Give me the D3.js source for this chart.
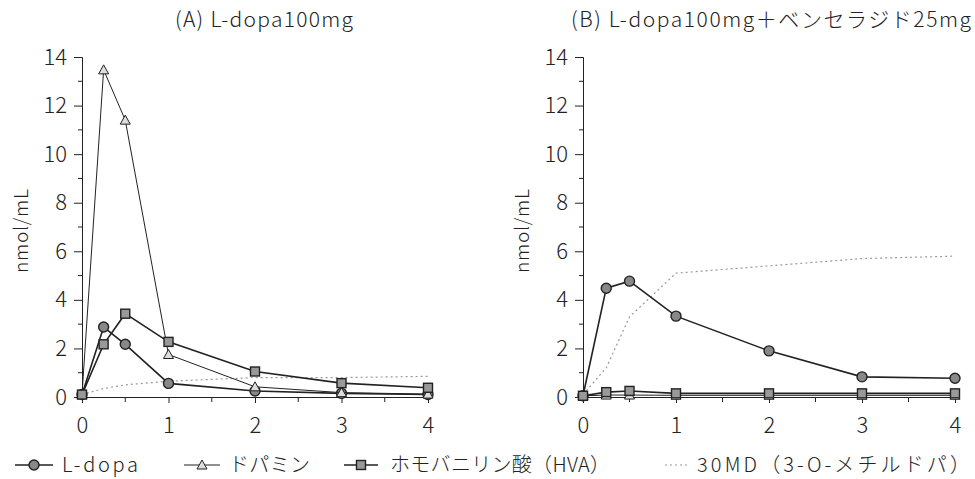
<!DOCTYPE html>
<html>
<head>
<meta charset="utf-8">
<script src="https://cdn.jsdelivr.net/npm/d3@7"></script>
<style>
  body { margin: 0; background: #fff; }
  text { font-family: "Noto Sans CJK JP", "Noto Sans", sans-serif; fill: #222; font-weight: 300; }
</style>
</head>
<body>
<div class="container"></div>
<script>
// time points (h)
const times = [0, 0.25, 0.5, 1, 2, 3, 4];
const yTicks = [0, 2, 4, 6, 8, 10, 12, 14];
const xTicks = [0, 1, 2, 3, 4];

// (A) L-dopa 100mg
const aLdopa = [0.1, 2.88, 2.17, 0.56, 0.25, 0.15, 0.1];
const aDopamine = [0.1, 13.47, 11.4, 1.75, 0.42, 0.18, 0.12];
const aHVA = [0.1, 2.17, 3.43, 2.27, 1.05, 0.57, 0.38];
const a3OMD = [0.1, 0.35, 0.5, 0.65, 0.8, 0.8, 0.85];

// (B) L-dopa 100mg + benserazide 25mg
const bLdopa = [0.05, 4.48, 4.77, 3.33, 1.9, 0.83, 0.77];
const bDopamine = [0.05, 0.08, 0.08, 0.07, 0.07, 0.07, 0.07];
const bHVA = [0.05, 0.2, 0.25, 0.15, 0.15, 0.15, 0.15];
const b3OMD = [0.1, 1.2, 3.3, 5.1, 5.4, 5.7, 5.8];

const titles = ["(A) L-dopa100mg", "(B) L-dopa100mg＋ベンセラジド25mg"];
const legendLabels = ["L-dopa", "ドパミン", "ホモバニリン酸（HVA）", "30MD（3-O-メチルドパ）"];

const w = 975, h = 479;
const ink = "#222";

const svg = d3.select(".container").append("svg")
  .attr("width", w).attr("height", h);

const panels = [
  { title: titles[0], tx: 175, tw: 178, x0: 82, x1: 428, series: [aLdopa, aDopamine, aHVA, a3OMD] },
  { title: titles[1], tx: 571, tw: 400, x0: 583, x1: 955, series: [bLdopa, bDopamine, bHVA, b3OMD] }
];

const kinds = ["circle", "triangle", "square", "none"];

function drawMarker(g, kind, x, y) {
  if (kind === "circle") {
    g.append("circle").attr("cx", x).attr("cy", y).attr("r", 5)
      .attr("fill", "#888").attr("stroke", ink).attr("stroke-width", 1.4);
  } else if (kind === "square") {
    g.append("rect").attr("x", x - 4.5).attr("y", y - 4.5).attr("width", 9).attr("height", 9)
      .attr("fill", "#999").attr("stroke", ink).attr("stroke-width", 1.4);
  } else if (kind === "triangle") {
    g.append("path")
      .attr("d", `M${x},${y - 5}L${x + 5},${y + 4}L${x - 5},${y + 4}Z`)
      .attr("fill", "#ddd").attr("stroke", ink).attr("stroke-width", 1);
  }
}

panels.forEach(p => {
  const x = d3.scaleLinear().domain([0, 4]).range([p.x0, p.x1]);
  const y = d3.scaleLinear().domain([0, 14]).range([397, 57]);
  const g = svg.append("g");

  g.append("text").attr("x", p.tx).attr("y", 27)
    .attr("font-size", 21).attr("textLength", p.tw).attr("lengthAdjust", "spacing")
    .text(p.title);

  // y axis
  const ya = g.append("g").attr("transform", `translate(${p.x0},0)`)
    .call(d3.axisLeft(y).tickValues(yTicks).tickFormat(d3.format("d")).tickSize(8).tickPadding(7));
  ya.selectAll("text").attr("font-size", 22).attr("font-family", "Liberation Sans, sans-serif");
  ya.append("g").selectAll("line").data(d3.range(1, 14, 2)).join("line")
    .attr("x1", -4).attr("x2", 0).attr("y1", d => y(d)).attr("y2", d => y(d))
    .attr("stroke", ink);

  // x axis
  const xa = g.append("g").attr("transform", `translate(0,397)`)
    .call(d3.axisBottom(x).tickValues(xTicks).tickFormat(d3.format("d")).tickSize(6).tickPadding(14));
  xa.selectAll("text").attr("font-size", 22).attr("font-family", "Liberation Sans, sans-serif");
  xa.append("g").selectAll("line").data([0.5, 1.5, 2.5, 3.5]).join("line")
    .attr("x1", d => x(d)).attr("x2", d => x(d)).attr("y1", 0).attr("y2", 5)
    .attr("stroke", ink);
  g.selectAll(".domain").attr("stroke", ink);
  g.selectAll(".tick line").attr("stroke", ink);

  g.append("text")
    .attr("transform", `translate(${p.x0 - 54},231) rotate(-90)`)
    .attr("text-anchor", "middle").attr("font-size", 19)
    .attr("textLength", 84).attr("lengthAdjust", "spacing").text("nmol/mL");

  const line = d3.line().x((d, i) => x(times[i])).y(d => y(d));

  // dotted 3OMD first, then solid series
  [3, 0, 1, 2].forEach(si => {
    const vals = p.series[si];
    g.append("path").datum(vals).attr("d", line).attr("fill", "none")
      .attr("stroke", si === 3 ? "#999" : ink)
      .attr("stroke-width", si === 3 ? 1.2 : (si === 1 ? 1 : 1.6))
      .attr("stroke-dasharray", si === 3 ? "2,3" : null);
    vals.forEach((v, i) => drawMarker(g, kinds[si], x(times[i]), y(v)));
  });
});

// legend
const legendLine = [[15, 53], [184, 220], [344, 378], [665, 690]];
const legendText = [[62, 76], [229, 81], [390, 220], [697, 273]];
const legendG = svg.append("g").attr("transform", "translate(0,465)");
legendLabels.forEach((lab, i) => {
  const [l0, l1] = legendLine[i];
  legendG.append("line").attr("x1", l0).attr("x2", l1).attr("y1", 0).attr("y2", 0)
    .attr("stroke", i === 3 ? "#999" : ink)
    .attr("stroke-width", i === 3 ? 1.2 : (i === 1 ? 1 : 1.6))
    .attr("stroke-dasharray", i === 3 ? "2,3" : null);
  drawMarker(legendG, kinds[i], (l0 + l1) / 2, 0);
  legendG.append("text").attr("x", legendText[i][0]).attr("y", 7)
    .attr("font-size", 20).attr("textLength", legendText[i][1]).attr("lengthAdjust", "spacing")
    .text(lab);
});
</script>
</body>
</html>
